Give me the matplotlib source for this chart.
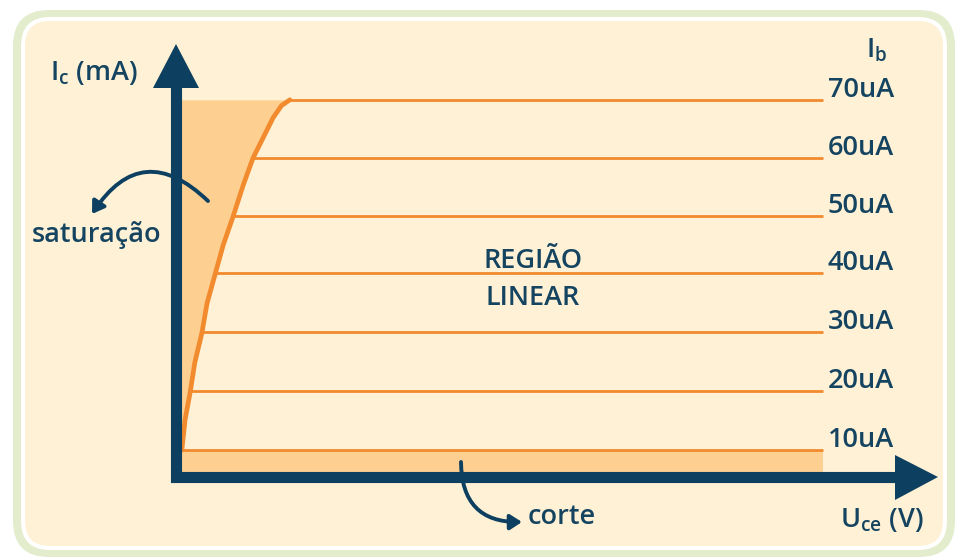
import matplotlib
matplotlib.use('Agg')
import matplotlib.pyplot as plt
from matplotlib.patches import FancyBboxPatch, Polygon, FancyArrowPatch
import numpy as np

plt.rcParams['font.family'] = ['Open Sans', 'DejaVu Sans']
plt.rcParams['font.weight'] = 'semibold'
plt.rcParams['mathtext.fontset'] = 'custom'
plt.rcParams['mathtext.rm'] = 'Open Sans:semibold'

# dados
ib_labels = ['10uA', '20uA', '30uA', '40uA', '50uA', '60uA', '70uA']
ic_levels = [0.46, 1.47, 2.48, 3.5, 4.48, 5.47, 6.47]
line_start = [0.09, 0.22, 0.40, 0.60, 0.88, 1.19, 1.76]
uce_max = 10.0

# curva de saturacao (Uce, Ic)
curva_x = [0.09, 0.14, 0.22, 0.29, 0.40, 0.48, 0.60, 0.73, 0.88, 1.04, 1.19, 1.50, 1.63, 1.76]
curva_y = [0.46, 0.98, 1.46, 1.96, 2.47, 2.98, 3.46, 3.98, 4.46, 5.01, 5.47, 6.16, 6.37, 6.47]

creme = '#FEF1D5'
sombra = '#FDCF90'
laranja = '#F28A2E'
azul = '#0D3F60'
texto = '#154461'
verde = '#E3ECCC'

W, H = 957, 559
fig = plt.figure(figsize=(W / 100, H / 100), dpi=100)

# eixo em pixels para a moldura e decoracoes
ax0 = fig.add_axes([0, 0, 1, 1])
ax0.set_xlim(0, W)
ax0.set_ylim(H, 0)
ax0.axis('off')

ax0.add_patch(FancyBboxPatch((13, 10), 942, 547, boxstyle='round,pad=0,rounding_size=36',
                             fc=verde, ec='none'))
ax0.add_patch(FancyBboxPatch((21, 17), 926, 533, boxstyle='round,pad=0,rounding_size=29',
                             fc='white', ec='none'))
ax0.add_patch(FancyBboxPatch((25, 21), 918, 525, boxstyle='round,pad=0,rounding_size=25',
                             fc=creme, ec='none'))

# eixo de dados
x0, sx = 176, 64.7
y0, sy = 477, 58.3
ax = fig.add_axes([0, 0, 1, 1])
ax.patch.set_alpha(0)
ax.set_xlim(-x0 / sx, (W - x0) / sx)
ax.set_ylim(-(H - y0) / sy, y0 / sy)
ax.axis('off')

# regiao de corte
ax.fill_between([0, uce_max], 0, ic_levels[0], color=sombra, lw=0, zorder=1)
# regiao de saturacao
cx = np.array(curva_x)
cy = np.array(curva_y)
ax.fill_betweenx(cy, 0, cx, color=sombra, lw=0, zorder=1)
ax.fill_between([0, cx[0]], 0, ic_levels[0], color=sombra, lw=0, zorder=1)

for xs, lv, lab in zip(line_start, ic_levels, ib_labels):
    ax.plot([xs, uce_max], [lv, lv], color=laranja, lw=2.0, solid_capstyle='butt', zorder=2)
    ax.text(uce_max + 0.07, lv + 3 / sy, lab, color=texto, fontsize=19.5,
            ha='left', va='baseline', zorder=5)

ax.plot(cx, cy, color=laranja, lw=3.4, solid_capstyle='round', solid_joinstyle='round', zorder=3)

# eixos com setas (em pixels)
ax.plot([176, 176, 897], [87, 477, 477], color=azul, lw=8, solid_joinstyle='miter',
        solid_capstyle='butt', zorder=6, transform=ax0.transData)
ax.add_patch(Polygon([[176, 44], [153, 88], [199, 88]], closed=True, fc=azul, ec='none',
                     transform=ax0.transData, zorder=6))
ax.add_patch(Polygon([[938, 477], [895, 455], [895, 500]], closed=True, fc=azul, ec='none',
                     transform=ax0.transData, zorder=6))

# setas curvas
ax.add_patch(FancyArrowPatch((208, 201), (92, 214), connectionstyle='arc3,rad=0.6',
                             arrowstyle='-|>,head_length=7,head_width=4.5', lw=2.8,
                             color=azul, transform=ax0.transData, zorder=7,
                             shrinkA=0, shrinkB=0))
ax.add_patch(FancyArrowPatch((461, 462), (522, 522), connectionstyle='arc3,rad=0.5',
                             arrowstyle='-|>,head_length=7,head_width=4.5', lw=2.8,
                             color=azul, transform=ax0.transData, zorder=7,
                             shrinkA=0, shrinkB=0))

# textos
kw = dict(color=texto, fontsize=19.5, transform=ax0.transData, zorder=8)
ax.text(50, 80, r'$\mathregular{I_c}$ (mA)', ha='left', va='baseline', **kw)
ax.text(866, 58, r'$\mathregular{I_b}$', ha='left', va='baseline', **kw)
ax.text(32, 242, 'saturação', ha='left', va='baseline', **kw)
ax.text(533, 268, 'REGIÃO', ha='center', va='baseline', **kw)
ax.text(533, 305, 'LINEAR', ha='center', va='baseline', **kw)
ax.text(528, 524, 'corte', ha='left', va='baseline', **kw)
ax.text(840, 527, r'$\mathregular{U_{ce}}$ (V)', ha='left', va='baseline', **kw)

fig.savefig('out.png', dpi=100)
